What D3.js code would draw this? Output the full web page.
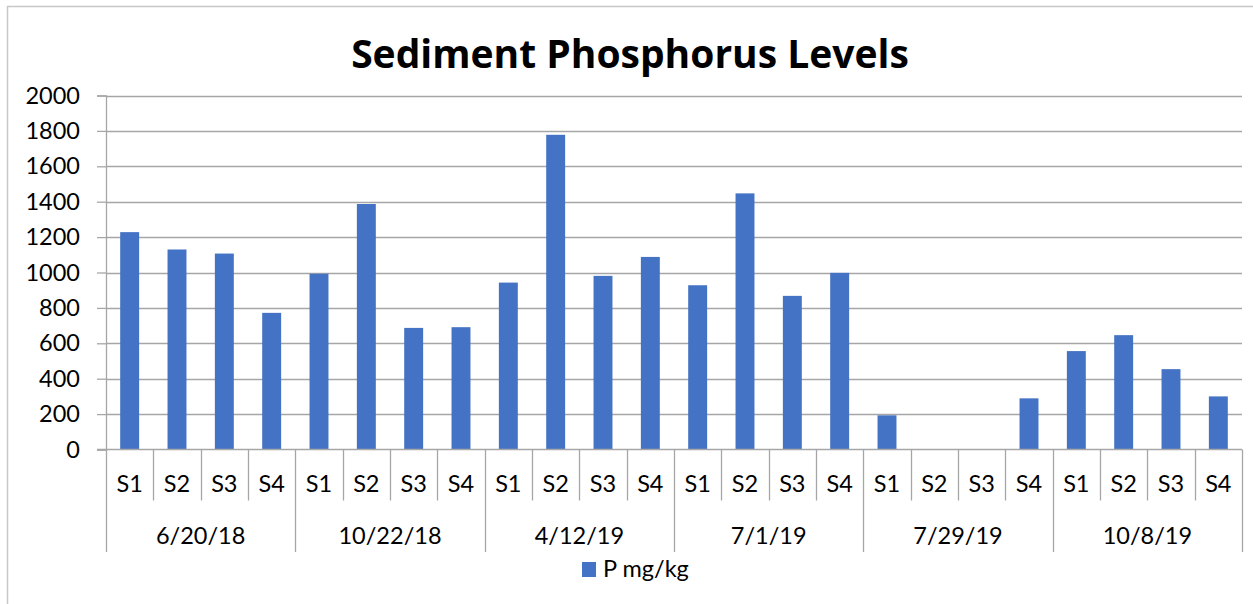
<!DOCTYPE html>
<html>
<head>
<meta charset="utf-8">
<script src="https://cdn.jsdelivr.net/npm/d3@7"></script>
<style>
  body { margin: 0; background: #fff; }
  svg { display: block; font-family: Lato, "Open Sans", sans-serif; }
</style>
</head>
<body>
<div id="chart"></div>
<script>
// chart values
var dates = ["6/20/18", "10/22/18", "4/12/19", "7/1/19", "7/29/19", "10/8/19"];
var sites = ["S1", "S2", "S3", "S4"];
var yTicks = [0, 200, 400, 600, 800, 1000, 1200, 1400, 1600, 1800, 2000];
var p0620 = [1228, 1130, 1107, 772];
var p1022 = [993, 1387, 687, 691];
var p0412 = [943, 1778, 981, 1088];
var p0701 = [928, 1447, 868, 998];
var p0729 = [193, 0, 0, 289];
var p1008 = [556, 646, 454, 300];
var seriesName = "P mg/kg";

var allValues = [p0620, p1022, p0412, p0701, p0729, p1008];

// flatten into one row per bar
var data = [];
dates.forEach(function (d, i) {
  sites.forEach(function (s, j) {
    data.push({ date: d, site: s, key: d + "|" + s, value: allValues[i][j] });
  });
});

var W = 1253, H = 604;
var plot = { left: 106, right: 1242, top: 95.5, bottom: 449.5 };
var barColor = "#4472C4";
var lineColor = "#a6a6a6";
var labelSize = "23.5px";

var svg = d3.select("#chart")
  .append("svg")
  .attr("width", W)
  .attr("height", H);

// chart area border
svg.append("rect")
  .attr("x", 7.5).attr("y", 6.5)
  .attr("width", W + 10).attr("height", H + 10)
  .attr("fill", "#fff")
  .attr("stroke", "#c8c8c8")
  .attr("stroke-width", 1.5);

// scales
var x = d3.scaleBand()
  .domain(data.map(function (d) { return d.key; }))
  .range([plot.left, plot.right])
  .paddingInner(0.6)
  .paddingOuter(0.3);

var xCat = d3.scaleBand()
  .domain(data.map(function (d) { return d.key; }))
  .range([plot.left, plot.right]);

var xGroup = d3.scaleBand()
  .domain(dates)
  .range([plot.left, plot.right]);

var y = d3.scaleLinear()
  .domain([0, 2000])
  .range([plot.bottom, plot.top]);

// gridlines
svg.append("g")
  .selectAll("line")
  .data(yTicks.filter(function (t) { return t > 0; }))
  .enter()
  .append("line")
  .attr("x1", plot.left).attr("x2", plot.right)
  .attr("y1", function (d) { return Math.round(y(d)) + 0.5; })
  .attr("y2", function (d) { return Math.round(y(d)) + 0.5; })
  .attr("stroke", lineColor)
  .attr("stroke-width", 1.3);

// y axis
var yAxis = svg.append("g")
  .attr("transform", "translate(" + plot.left + ",0)")
  .call(d3.axisLeft(y).tickValues(yTicks).tickSize(9).tickPadding(17).tickFormat(d3.format("d")));
yAxis.selectAll("line").attr("stroke", lineColor).attr("stroke-width", 1.3);
yAxis.select(".domain").attr("stroke", lineColor).attr("stroke-width", 1.3);
yAxis.selectAll("text")
  .attr("fill", "#000")
  .style("font-size", labelSize)
  .style("font-family", "Lato, sans-serif");

// bars
svg.append("g")
  .selectAll("rect")
  .data(data)
  .enter()
  .append("rect")
  .attr("x", function (d) { return x(d.key); })
  .attr("width", x.bandwidth())
  .attr("y", function (d) { return y(d.value); })
  .attr("height", function (d) { return y(0) - y(d.value); })
  .attr("fill", barColor);

// category axis: baseline
svg.append("line")
  .attr("x1", plot.left - 9).attr("x2", plot.right)
  .attr("y1", plot.bottom).attr("y2", plot.bottom)
  .attr("stroke", lineColor).attr("stroke-width", 1.5);

// site separators (short) and date separators (long)
var bounds = data.map(function (d) { return xCat(d.key); }).concat([plot.right]);
svg.append("g")
  .selectAll("line")
  .data(bounds)
  .enter()
  .append("line")
  .attr("x1", function (d) { return Math.round(d) + 0.5; })
  .attr("x2", function (d) { return Math.round(d) + 0.5; })
  .attr("y1", plot.bottom)
  .attr("y2", function (d, i) { return (i % 4 === 0) ? 552 : 500.5; })
  .attr("stroke", lineColor)
  .attr("stroke-width", 1.3);

// site labels
svg.append("g")
  .selectAll("text")
  .data(data)
  .enter()
  .append("text")
  .attr("x", function (d) { return xCat(d.key) + xCat.bandwidth() / 2; })
  .attr("y", 491.5)
  .attr("text-anchor", "middle")
  .style("font-size", labelSize)
  .attr("fill", "#000")
  .text(function (d) { return d.site; });

// date labels
svg.append("g")
  .selectAll("text")
  .data(dates)
  .enter()
  .append("text")
  .attr("x", function (d) { return xGroup(d) + xGroup.bandwidth() / 2; })
  .attr("y", 544)
  .attr("text-anchor", "middle")
  .style("font-size", labelSize)
  .attr("fill", "#000")
  .text(function (d) { return d; });

// title
svg.append("text")
  .attr("x", 630)
  .attr("y", 68)
  .attr("text-anchor", "middle")
  .style("font-family", "'Open Sans', sans-serif")
  .style("font-size", "39px")
  .style("font-weight", "bold")
  .attr("fill", "#000")
  .text("Sediment Phosphorus Levels");

// legend
var legend = svg.append("g").attr("transform", "translate(582,562)");
legend.append("rect")
  .attr("width", 14).attr("height", 15)
  .attr("fill", barColor);
legend.append("text")
  .attr("x", 21).attr("y", 15)
  .style("font-size", labelSize)
  .attr("fill", "#000")
  .text(seriesName);
</script>
</body>
</html>
